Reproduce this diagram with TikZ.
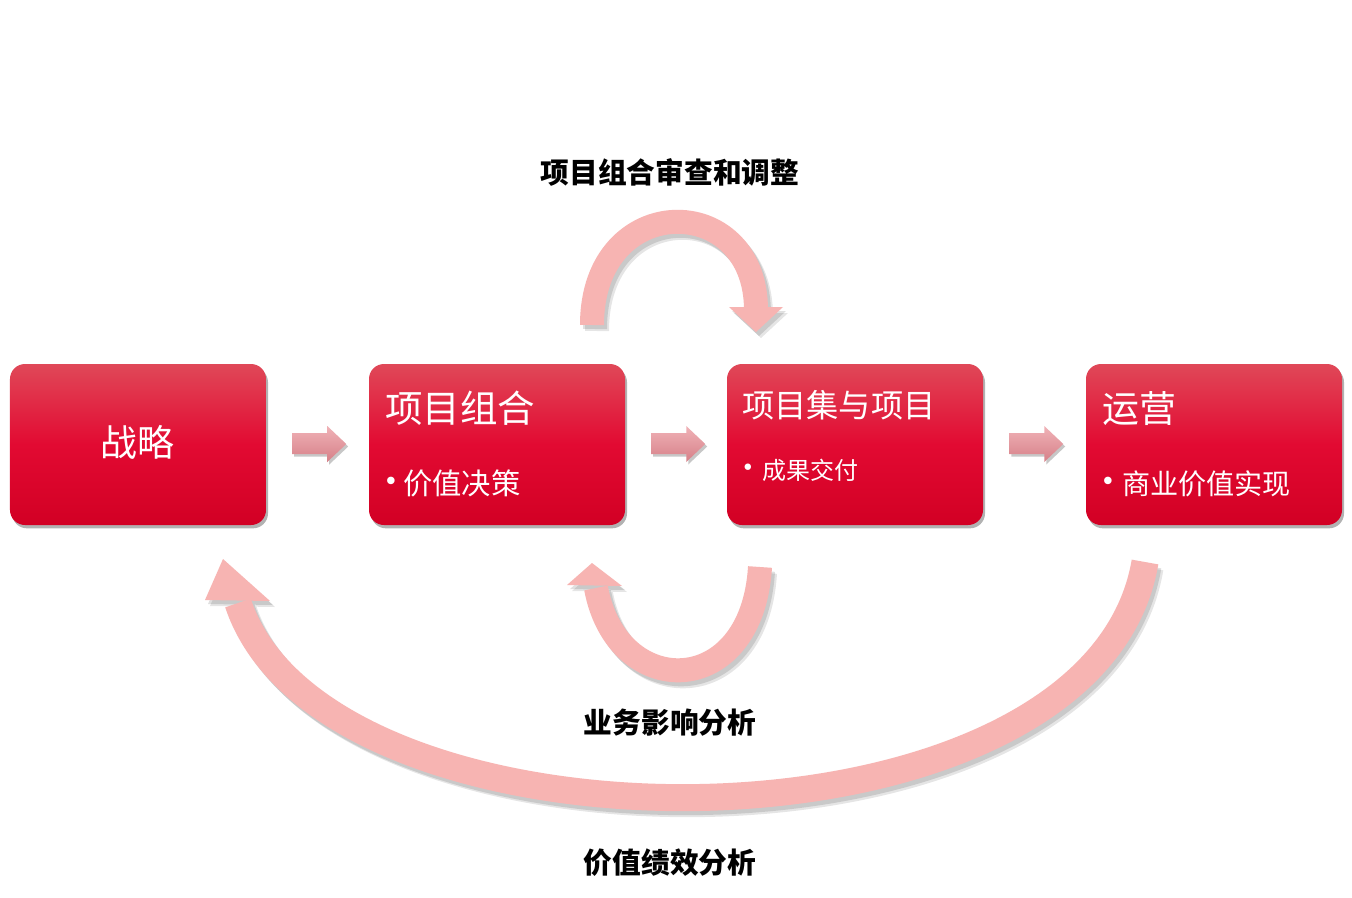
\documentclass[tikz,border=0pt]{standalone}
\usepackage{fontspec}
\newfontfamily\cjk{Noto Sans CJK SC}
\newfontfamily\djv{DejaVu Sans}
\usetikzlibrary{shadows,calc}
\definecolor{arcpink}{RGB}{247,180,178}
\definecolor{boxtop}{RGB}{224,72,88}
\definecolor{boxmid}{RGB}{226,10,50}
\definecolor{boxbot}{RGB}{210,0,36}
\definecolor{bartop}{RGB}{240,178,183}
\definecolor{barbot}{RGB}{214,128,136}
\newcommand\myfs[1]{\fontsize{#1}{#1}\selectfont}
\newcommand\bandpaths{%
  \draw[band] (592,325) .. controls (592,190) and (756,190) .. (756,310);
  \fill (729,307) -- (783,307) -- (756,332) -- cycle;
  \draw[band] (760,567) .. controls (752,701) and (617,701) .. (596,588);
  \fill (567,585) -- (622,586) -- (592,563) -- cycle;
  \draw[bigband] (1145,562) .. controls (1093,869) and (326,869) .. (238,603);
  \fill (205,600) -- (270,601) -- (223,559) -- cycle;
}
\begin{document}
\begin{tikzpicture}[x=0.03cm,y=-0.03cm,font=\cjk,
  box/.style={rounded corners=0.45cm,minimum width=7.68cm,minimum height=4.83cm,inner sep=0pt,
    top color=boxtop,bottom color=boxbot,middle color=boxmid,
    drop shadow={shadow xshift=0.06cm,shadow yshift=-0.1cm,opacity=0.3,fill=black}},
  btxt/.style={text=white,inner sep=0pt},
  bul/.style={text=white,inner sep=0pt,anchor=center,font=\djv\myfs{#1}},
  lbl/.style={font=\cjk\bfseries\myfs{24.5},text=black,inner sep=0pt,anchor=base},
  band/.style={line width=0.72cm},
  bigband/.style={line width=0.81cm}]
\useasboundingbox (0,0) rectangle (1352,897);
\fill[white] (0,0) rectangle (1352,897);

% boxes
\node[box] (b1) at (138,444.5) {};
\node[box] (b2) at (497,444.5) {};
\node[box] (b3) at (855,444.5) {};
\node[box] (b4) at (1214,444.5) {};

% box texts
\node[btxt,anchor=base,font=\cjk\myfs{31.5}] (t1) at (137,456) {战略};
\node[btxt,anchor=base west,font=\cjk\myfs{32}] (t2) at (385,422) {项目组合};
\node[bul=22] (u2) at (391,484) {•};
\node[btxt,anchor=base west,font=\cjk\myfs{25}] (s2) at (403,494) {价值决策};
\node[btxt,anchor=base west,font=\cjk\myfs{27.5}] (t3) at (742,417) {项目集与项目};
\node[bul=19] (u3) at (748,470) {•};
\node[btxt,anchor=base west,font=\cjk\myfs{20.5}] (s3) at (762,479) {成果交付};
\node[btxt,anchor=base west,font=\cjk\myfs{31.5}] (t4) at (1102,422) {运营};
\node[bul=22] (u4) at (1108,484) {•};
\node[btxt,anchor=base west,font=\cjk\myfs{24}] (s4) at (1122,494) {商业价值实现};

% block arrows between boxes
\foreach \a/\b in {b1/b2,b2/b3,b3/b4}{
  \begin{scope}[shift={(\a.east)}]
    \fill[black,opacity=0.22] (28,-9) -- (63,-9) -- (63,-16) -- (82,2) -- (63,20) -- (63,12) -- (28,12) -- cycle;
    \shade[top color=bartop,bottom color=barbot] (26,-11.5) -- (61,-11.5) -- (61,-18.5) -- (80,-0.5) -- (61,17.5) -- (61,9.5) -- (26,9.5) -- cycle;
  \end{scope}
}

% curved band arrows: soft shadow then band
\begin{scope}[shift={(5,6)},transparency group,opacity=0.1]
  \begin{scope}[draw=black,fill=black]
    \bandpaths
  \end{scope}
\end{scope}
\begin{scope}[shift={(3,4)},transparency group,opacity=0.12]
  \begin{scope}[draw=black,fill=black]
    \bandpaths
  \end{scope}
\end{scope}
\begin{scope}[draw=arcpink,fill=arcpink]
  \bandpaths
\end{scope}

% labels
\node[lbl] (l1) at (670,183) {项目组合审查和调整};
\node[lbl] (l2) at (670,733) {业务影响分析};
\node[lbl] (l3) at (670,873) {价值绩效分析};
\end{tikzpicture}
\end{document}
